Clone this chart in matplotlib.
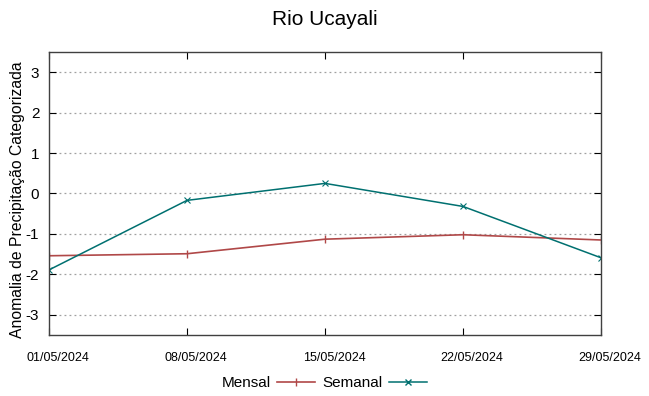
import matplotlib.pyplot as plt
import matplotlib.transforms as mtransforms
from matplotlib.lines import Line2D

# Data
dates = ["01/05/2024", "08/05/2024", "15/05/2024", "22/05/2024", "29/05/2024"]
mensal = [-1.54, -1.49, -1.13, -1.02, -1.15]
semanal = [-1.89, -0.17, 0.25, -0.32, -1.59]
yticks = [-3, -2, -1, 0, 1, 2, 3]

plt.rcParams["font.family"] = ["Liberation Sans", "DejaVu Sans"]

fig = plt.figure(figsize=(6.49, 3.96), dpi=100)
ax = fig.add_axes([49 / 649, 1 - 335 / 396, 552 / 649, 283 / 396])

x = list(range(len(dates)))
ax.plot(x, mensal, color="#b04848", lw=1.2, marker="|", ms=6, mew=1.0, label="Mensal")
ax.plot(x, semanal, color="#007070", lw=1.1, marker="x", ms=5, mew=0.8, label="Semanal")

ax.set_xlim(0, len(dates) - 1)
ax.set_ylim(-3.5, 3.5)
ax.set_xticks(x)
ax.set_xticklabels(dates, fontsize=9)
ax.set_yticks(yticks)
ax.set_yticklabels([str(v) for v in yticks], fontsize=11)
ax.tick_params(direction="in", top=True, right=True, length=5, color="black")
ax.tick_params(axis="x", pad=12)
ax.tick_params(axis="y", pad=7)
ax.yaxis.grid(True, linestyle=(0, (1.5, 2.5)), color="#a0a0a0", lw=0.9)
for s in ax.spines.values():
    s.set_color("#404040")
    s.set_linewidth(1.0)

# gnuplot puts the date labels a little right of the ticks
shift = mtransforms.ScaledTranslation(9 / 100, 0, fig.dpi_scale_trans)
for lab in ax.get_xticklabels():
    lab.set_transform(lab.get_transform() + shift)

fig.text(18 / 649, 1 - 200 / 396, "Anomalia de Precipitação Categorizada", fontsize=11.3,
         rotation=90, ha="center", va="center")
fig.suptitle("Rio Ucayali", fontsize=15, y=0.975)

handles = [
    Line2D([], [], color="#b04848", lw=1.2, marker="|", ms=6),
    Line2D([], [], color="#007070", lw=1.1, marker="x", ms=5),
]
fig.legend(handles, ["Mensal", "Semanal"], loc="lower center", ncol=2, frameon=False,
           fontsize=11, bbox_to_anchor=(0.5, -0.02), handlelength=2.5, markerfirst=False,
           columnspacing=0.5, handletextpad=0.4)

fig.savefig("out.png", dpi=100)
